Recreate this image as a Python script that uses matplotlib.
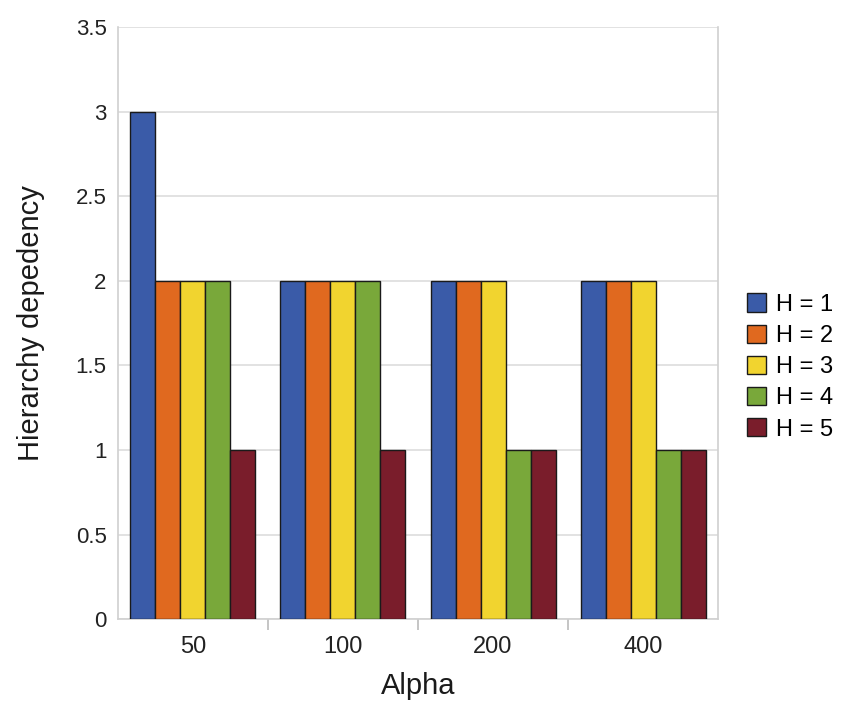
import matplotlib
matplotlib.use("Agg")
import matplotlib.pyplot as plt
import numpy as np

plt.rcParams['font.family'] = ['Liberation Sans', 'DejaVu Sans']

categories = ["50", "100", "200", "400"]
series_names = ["H = 1", "H = 2", "H = 3", "H = 4", "H = 5"]
h1 = [3, 2, 2, 2]
h2 = [2, 2, 2, 2]
h3 = [2, 2, 2, 2]
h4 = [2, 2, 1, 1]
h5 = [1, 1, 1, 1]
values = [h1, h2, h3, h4, h5]
colors = ["#3a5ba8", "#e0691f", "#f1d42f", "#79a83a", "#7a1d2b"]

fig = plt.figure(figsize=(8.47, 7.15), dpi=100)
ax = fig.add_axes([0.139, 0.134, 0.709, 0.828])

x = np.arange(len(categories))
bw = 0.8333 / 5
for i, (name, vals, c) in enumerate(zip(series_names, values, colors)):
    ax.bar(x - 0.41665 + bw * (i + 0.5), vals, width=bw, color=c,
           edgecolor="#1a1a1a", linewidth=1.0, label=name, zorder=3)

ax.set_xlim(-0.5, 3.5)
ax.set_ylim(0, 3.5)
ax.set_yticks([0, 0.5, 1, 1.5, 2, 2.5, 3, 3.5])
ax.set_yticklabels(["0", "0.5", "1", "1.5", "2", "2.5", "3", "3.5"])
ax.set_xticks(x)
ax.set_xticklabels(categories)
ax.tick_params(axis='x', length=0, labelsize=17, pad=12, colors="#222222")
ax.tick_params(axis='y', length=0, labelsize=16, pad=8, colors="#222222")
# category separator ticks
ax.set_xticks([0.5, 1.5, 2.5], minor=True)
ax.tick_params(axis='x', which='minor', length=8, color="#bbbbbb", width=1.2)

ax.yaxis.grid(True, color="#dddddd", linewidth=1.2, zorder=0)
for s in ax.spines.values():
    s.set_color("#d0d0d0")
    s.set_linewidth(1.2)
ax.spines['top'].set_visible(False)

ax.set_xlabel("Alpha", fontsize=21, labelpad=10, color="#1a1a1a")
ax.set_ylabel("Hierarchy depedency", fontsize=21, labelpad=22, color="#1a1a1a")

leg = ax.legend(loc='center left', bbox_to_anchor=(1.013, 0.426), frameon=False,
                fontsize=17, handlelength=0.8, handleheight=0.8,
                handletextpad=0.4, labelspacing=0.38)

fig.savefig("out.png", dpi=100)
